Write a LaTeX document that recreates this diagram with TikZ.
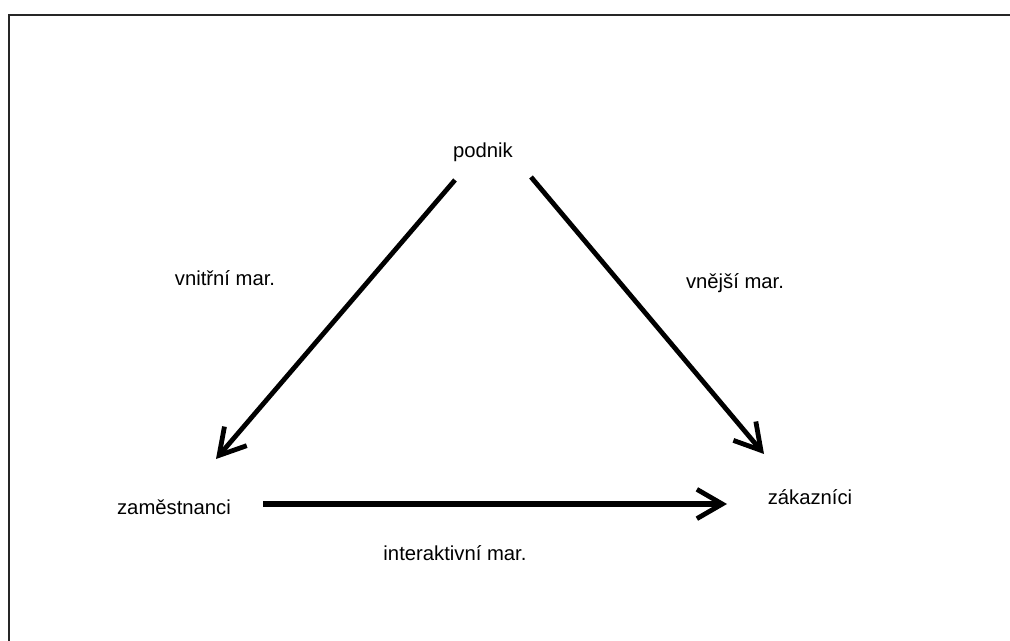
\documentclass[tikz,border=0pt]{standalone}
\usepackage{fontspec}
\setmainfont{Liberation Sans}
\usetikzlibrary{arrows.meta}
\begin{document}
\begin{tikzpicture}[x=0.75pt,y=-0.75pt]
      \tikzset{lbl/.style={font=\fontsize{15.2}{17}\selectfont, inner sep=0pt},
        vztah/.style={line width=3.6pt, -{Straight Barb[length=19pt,width=22pt,line width=3.6pt]}}}
      \useasboundingbox (0,0) rectangle (1010,641);
      \draw[line width=1.6pt, black!85] (9,641) -- (9,15) -- (1010,15);
      \node[lbl] (podnik) at (483,152) {podnik};
      \node[lbl] (zam) at (174,507) {zaměstnanci};
      \node[lbl] (zak) at (810,497) {zákazníci};
      \node[lbl] (vnitr) at (225,278) {vnitřní mar.};
      \node[lbl] (vnej) at (735,283) {vnější mar.};
      \node[lbl] (inter) at (455,553) {interaktivní mar.};
      \coordinate (a1) at (455,180); \coordinate (a2) at (216,459);
      \coordinate (b1) at (531,177); \coordinate (b2) at (764,454);
      \coordinate (c1) at (263,504); \coordinate (c2) at (727,504);
      \draw[vztah] (a1) -- (a2);
      \draw[vztah] (b1) -- (b2);
      \draw[vztah, line width=4.2pt] (c1) -- (c2);
    \end{tikzpicture}
\end{document}
